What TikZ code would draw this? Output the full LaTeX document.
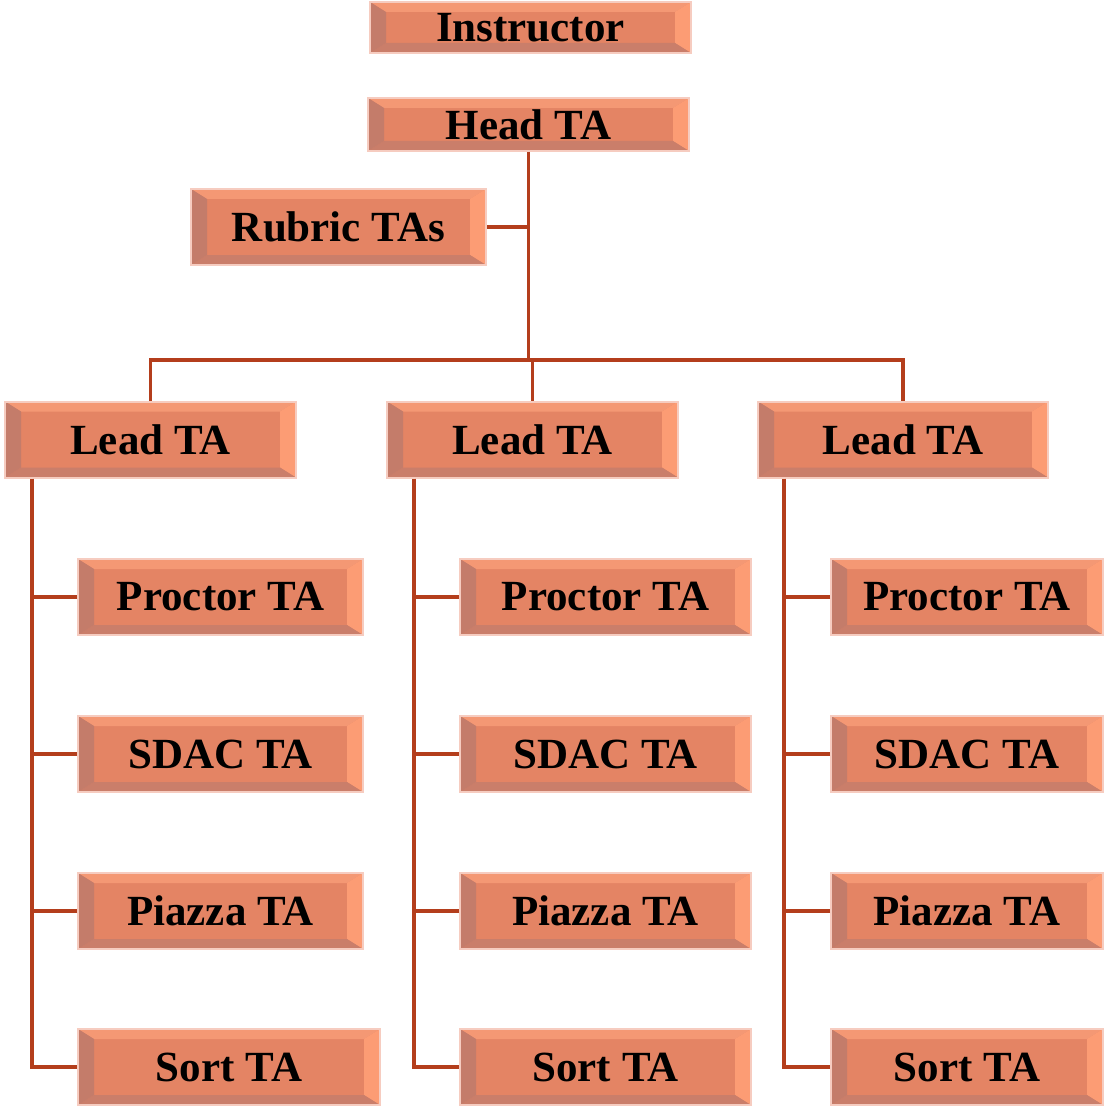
\documentclass[tikz,border=0pt]{standalone}
\usepackage{fontspec}
\setmainfont{Liberation Serif}
\usepackage{tikz}
\definecolor{boxmid}{RGB}{228,132,100}
\definecolor{boxtop}{RGB}{244,152,116}
\definecolor{boxleft}{RGB}{196,124,106}
\definecolor{boxbot}{RGB}{202,126,106}
\definecolor{boxright}{RGB}{252,156,116}
\definecolor{boxrim}{RGB}{246,204,192}
\definecolor{linkred}{RGB}{180,62,28}
\tikzstyle{tabox}=[rectangle,fill=boxmid,draw=boxrim,line width=1pt,
  minimum height=38pt,inner sep=0pt,
  font=\fontsize{21.5}{25}\selectfont\bfseries,
  path picture={
    \coordinate (bsw) at (path picture bounding box.south west);
    \coordinate (bne) at (path picture bounding box.north east);
    \coordinate (bnw) at (bsw|-bne);
    \coordinate (bse) at (bne|-bsw);
    \fill[boxtop] (bnw) -- (bne) -- ([shift={(-8pt,-5pt)}]bne) -- ([shift={(8pt,-5pt)}]bnw) -- cycle;
    \fill[boxright] (bne) -- (bse) -- ([shift={(-8pt,5pt)}]bse) -- ([shift={(-8pt,-5pt)}]bne) -- cycle;
    \fill[boxbot] (bse) -- (bsw) -- ([shift={(8pt,5pt)}]bsw) -- ([shift={(-8pt,5pt)}]bse) -- cycle;
    \fill[boxleft] (bsw) -- (bnw) -- ([shift={(8pt,-5pt)}]bnw) -- ([shift={(8pt,5pt)}]bsw) -- cycle;
  }]
\tikzstyle{wire}=[draw=linkred,line width=1.7pt]

\begin{document}
\begin{tikzpicture}[x=0.5pt,y=-0.5pt]
  \useasboundingbox (0,0) rectangle (1104,1107);

  \node[tabox,minimum width=160.5pt,minimum height=25.5pt] (instr) at (530.5,27.5) {Instructor};
  \node[tabox,minimum width=160.5pt,minimum height=26.5pt] (head) at (528.5,124.5) {Head TA};
  \node[tabox,minimum width=147.5pt] (rubric) at (338.5,227) {Rubric TAs};

  \node[tabox,minimum width=145.5pt] (lead1) at (150.5,439.5) {Lead TA};
  \node[tabox,minimum width=145.5pt] (lead2) at (532.5,439.5) {Lead TA};
  \node[tabox,minimum width=145pt] (lead3) at (903,439.5) {Lead TA};

  % first column
  \node[tabox,minimum width=142.5pt] (proc1) at (220.5,597) {Proctor TA};
  \node[tabox,minimum width=142.5pt] (sdac1) at (220.5,754) {SDAC TA};
  \node[tabox,minimum width=142.5pt] (piaz1) at (220.5,911) {Piazza TA};
  \node[tabox,minimum width=151pt] (sort1) at (229,1067) {Sort TA};

  % second column
  \node[tabox,minimum width=145.5pt] (proc2) at (605.5,597) {Proctor TA};
  \node[tabox,minimum width=145.5pt] (sdac2) at (605.5,754) {SDAC TA};
  \node[tabox,minimum width=145.5pt] (piaz2) at (605.5,911) {Piazza TA};
  \node[tabox,minimum width=145.5pt] (sort2) at (605.5,1067) {Sort TA};

  % third column
  \node[tabox,minimum width=136pt] (proc3) at (967,597) {Proctor TA};
  \node[tabox,minimum width=136pt] (sdac3) at (967,754) {SDAC TA};
  \node[tabox,minimum width=136pt] (piaz3) at (967,911) {Piazza TA};
  \node[tabox,minimum width=136pt] (sort3) at (967,1067) {Sort TA};

  \coordinate (hub) at (528.5,360);
  \draw[wire] (head.south) -- (head.south |- hub);
  \draw[wire] (rubric.east) -- (rubric.east -| hub);
  \draw[wire] (lead1.north) |- (hub) -| (lead3.north);
  \draw[wire] (lead2.north) -- (lead2.north |- hub);

  \coordinate (spine1) at ([xshift=14pt]lead1.south west);
  \coordinate (spine2) at ([xshift=14pt]lead2.south west);
  \coordinate (spine3) at ([xshift=13.5pt]lead3.south west);

  \draw[wire] (spine1) |- (sort1.west);
  \draw[wire] (proc1.west) -- (proc1.west -| spine1);
  \draw[wire] (sdac1.west) -- (sdac1.west -| spine1);
  \draw[wire] (piaz1.west) -- (piaz1.west -| spine1);

  \draw[wire] (spine2) |- (sort2.west);
  \draw[wire] (proc2.west) -- (proc2.west -| spine2);
  \draw[wire] (sdac2.west) -- (sdac2.west -| spine2);
  \draw[wire] (piaz2.west) -- (piaz2.west -| spine2);

  \draw[wire] (spine3) |- (sort3.west);
  \draw[wire] (proc3.west) -- (proc3.west -| spine3);
  \draw[wire] (sdac3.west) -- (sdac3.west -| spine3);
  \draw[wire] (piaz3.west) -- (piaz3.west -| spine3);

\end{tikzpicture}
\end{document}
